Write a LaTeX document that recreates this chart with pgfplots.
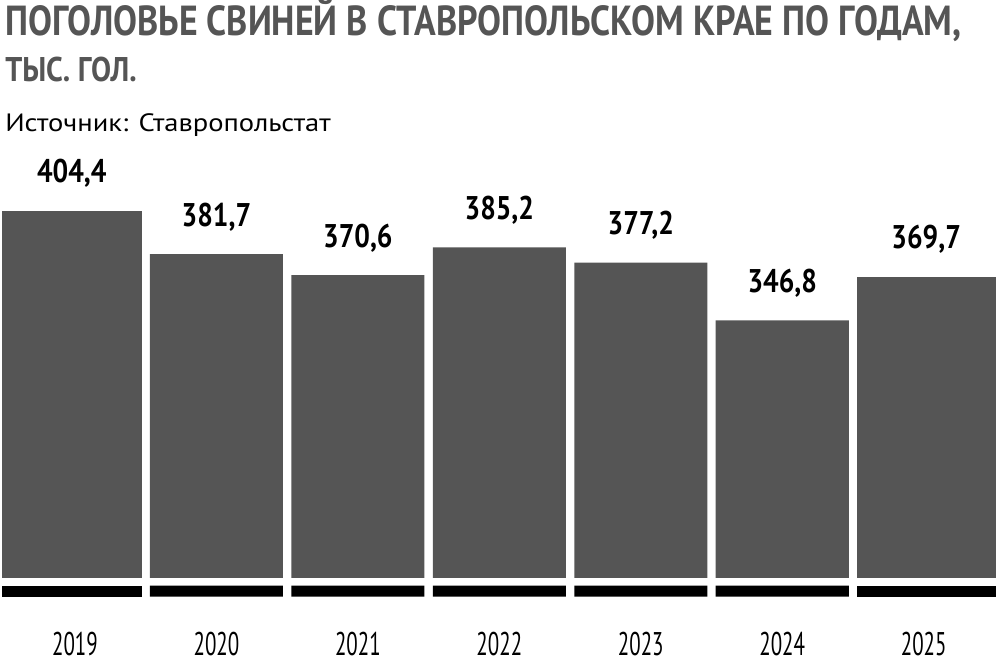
\documentclass[border=0pt]{standalone}
\usepackage{fontspec}
\setmainfont{PT Sans}
\newfontfamily\titlefont[FakeStretch=0.853]{PT Sans}
\newfontfamily\subfont[FakeStretch=0.875]{PT Sans}
\newfontfamily\valfont[FakeStretch=0.84]{PT Sans}
\newfontfamily\yearfont[FakeStretch=0.64]{PT Sans}
\newfontfamily\srcfont[FakeStretch=1.14]{PT Sans}
\usepackage{pgfplots}
\pgfplotsset{compat=1.18}
\definecolor{bargrey}{HTML}{555555}
\begin{document}
\begin{tikzpicture}
\useasboundingbox (0pt,-52.7pt) rectangle (750pt,447.5pt);
\begin{axis}[
  at={(0pt,0pt)}, anchor=south west,
  scale only axis, width=750pt, height=335pt,
  xmin=-0.5302, xmax=6.5395, ymin=201.4, ymax=436.5,
  axis line style={draw=none}, major tick length=0pt, ytick=\empty,
  xtick={0,1,2,3,4,5,6},
  xticklabels={2019,2020,2021,2022,2023,2024,2025},
  xticklabel style={font=\yearfont\fontsize{24.6}{26}\selectfont, anchor=base, yshift=-44.5pt, inner sep=0pt},
  /pgf/number format/.cd, use comma, fixed, fixed zerofill, precision=1, assume math mode=true, /pgfplots/.cd,
  every node near coord/.append style={font=\valfont\bfseries\fontsize{24.6}{26}\selectfont, text=black, anchor=base, yshift=21pt, inner sep=0pt},
]
% grey bars
\addplot[ybar, bar width=0.9403, bar shift=0pt, fill=bargrey, draw=none,
  nodes near coords, nodes near coords align={anchor=base}]
  coordinates {(1,381.7) (2,370.6) (3,385.2) (4,377.2) (5,346.8)};
\addplot[ybar, bar width=0.9876, bar shift=0pt, fill=bargrey, draw=none,
  nodes near coords, nodes near coords align={anchor=base}]
  coordinates {(-0.0223,404.4)};
\addplot[ybar, bar width=0.9827, bar shift=0pt, fill=bargrey, draw=none,
  nodes near coords, nodes near coords align={anchor=base}]
  coordinates {(6.0177,369.7)};
% white gap below the bars
\addplot[ybar, bar width=8, bar shift=0pt, fill=white, draw=none]
  coordinates {(3,211.4)};
% black base bars
\addplot[ybar, bar width=0.9403, bar shift=0pt, fill=black, draw=none]
  coordinates {(1,207.2) (2,207.2) (3,207.2) (4,207.2) (5,207.2)};
\addplot[ybar, bar width=0.9876, bar shift=0pt, fill=black, draw=none]
  coordinates {(-0.0223,207.2)};
\addplot[ybar, bar width=0.9827, bar shift=0pt, fill=black, draw=none]
  coordinates {(6.0177,207.2)};
\end{axis}
\node[anchor=base west, inner sep=0pt, text=bargrey, font=\titlefont\bfseries\fontsize{31.5}{31}\selectfont]
  at (3.75pt,420.5pt) {ПОГОЛОВЬЕ СВИНЕЙ В СТАВРОПОЛЬСКОМ КРАЕ ПО ГОДАМ,};
\node[anchor=base west, inner sep=0pt, text=bargrey, font=\subfont\bfseries\fontsize{25.7}{26}\selectfont]
  at (3.75pt,386pt) {ТЫС. ГОЛ.};
\node[anchor=base west, inner sep=0pt, text=black, font=\srcfont\fontsize{18.8}{20}\selectfont]
  at (3.75pt,348.5pt) {Источник: Ставропольстат};
\end{tikzpicture}
\end{document}
